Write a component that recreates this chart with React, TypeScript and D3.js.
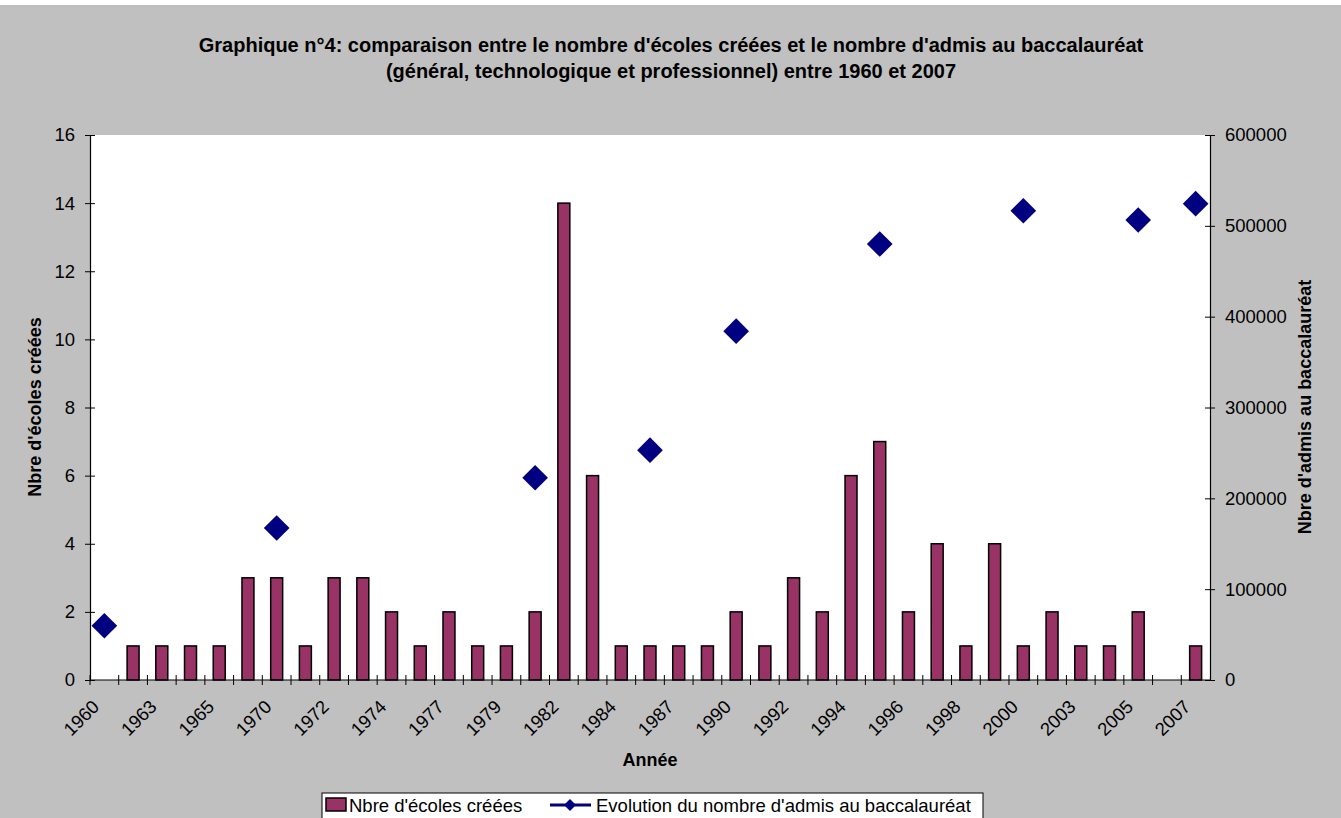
import * as d3 from "d3";
import { useEffect, useRef } from "react";

// categories (only every second label is shown on the axis)
const years = [
  "1960", "1962", "1963", "1964", "1965", "1968", "1970", "1971", "1972", "1973",
  "1974", "1976", "1977", "1978", "1979", "1980", "1982", "1983", "1984", "1985",
  "1987", "1988", "1990", "1991", "1992", "1993", "1994", "1995", "1996", "1997",
  "1998", "1999", "2000", "2002", "2003", "2004", "2005", "2006", "2007",
];
// Nbre d'écoles créées
const schools: (number | null)[] = [
  null, 1, 1, 1, 1, 3, 3, 1, 3, 3,
  2, 1, 2, 1, 1, 2, 14, 6, 1, 1,
  1, 1, 2, 1, 3, 2, 6, 7, 2, 4,
  1, 4, 1, 2, 1, 1, 2, null, 1,
];
// Evolution du nombre d'admis au baccalauréat
const admis: (number | null)[] = [
  59700, null, null, null, null, null, 167300, null, null, null,
  null, null, null, null, null, 222700, null, null, null, 253000,
  null, null, 384000, null, null, null, null, 480000, null, null,
  null, null, 516600, null, null, null, 506400, null, 524400,
];
const leftTicks = [0, 2, 4, 6, 8, 10, 12, 14, 16];
const rightTicks = [0, 100000, 200000, 300000, 400000, 500000, 600000];

const titleLines = [
  "Graphique n°4: comparaison entre le nombre d'écoles créées et le nombre d'admis au baccalauréat",
  "(général, technologique et professionnel) entre 1960 et 2007",
];

const FONT = "Arial, 'Liberation Sans', sans-serif";
const BAR = "#993366";
const NAVY = "#000080";

const App = () => {
  const svgRef = useRef<SVGSVGElement>(null);
  useEffect(() => {
    if (!svgRef.current) return;
    const svg = d3.select(svgRef.current);
    svg.selectAll("*").remove();

    const width = 1341;
    const height = 818;
    const left = 90;
    const right = 1210;
    const top = 135;
    const bottom = 680;

    svg.attr("width", width).attr("height", height).style("font-family", FONT);

    // chart background
    svg.append("rect").attr("x", 0).attr("y", 5).attr("width", width).attr("height", height - 5).attr("fill", "#C0C0C0");
    // plot area
    svg.append("rect").attr("x", left).attr("y", top).attr("width", right - left).attr("height", bottom - top).attr("fill", "#fff");

    const x = d3.scaleBand<string>().domain(years).range([left, right]).padding(0);
    const yL = d3.scaleLinear().domain([0, 16]).range([bottom, top]);
    const yR = d3.scaleLinear().domain([0, 600000]).range([bottom, top]);

    // title
    svg.append("g")
      .attr("font-weight", "bold")
      .attr("font-size", 20)
      .attr("text-anchor", "middle")
      .selectAll()
      .data(titleLines)
      .join("text")
      .attr("x", 671)
      .attr("y", (_, i) => 52 + i * 26)
      .text((d) => d);

    // bars
    const bw = x.bandwidth() / 2.4;
    svg.append("g")
      .selectAll()
      .data(years.map((y, i) => ({ y, v: schools[i] })).filter((d) => d.v != null))
      .join("rect")
      .attr("x", (d) => x(d.y)! + x.bandwidth() / 2 - bw / 2)
      .attr("y", (d) => yL(d.v as number))
      .attr("width", bw)
      .attr("height", (d) => bottom - yL(d.v as number))
      .attr("fill", BAR)
      .attr("stroke", "#000")
      .attr("stroke-width", 1.5);

    // axes
    const gL = svg.append("g").attr("transform", `translate(${left},0)`)
      .call(d3.axisLeft(yL).tickValues(leftTicks).tickSize(5).tickPadding(10));
    const gR = svg.append("g").attr("transform", `translate(${right},0)`)
      .call(d3.axisRight(yR).tickValues(rightTicks).tickSize(5).tickPadding(10).tickFormat(d3.format("d")));
    [gL, gR].forEach((g) => {
      g.select(".domain").attr("stroke", "#000").attr("stroke-width", 1.2);
      g.selectAll(".tick line").attr("stroke", "#000").attr("x1", -5).attr("x2", 5);
      g.selectAll(".tick text").attr("font-size", 18.5).attr("font-family", FONT).attr("fill", "#000");
    });

    const gX = svg.append("g").attr("transform", `translate(0,${bottom})`);
    gX.append("line").attr("x1", left).attr("x2", right).attr("stroke", "#000").attr("stroke-width", 1.2);
    gX.selectAll("line.tk")
      .data(years)
      .join("line")
      .attr("class", "tk")
      .attr("x1", (d) => x(d)!)
      .attr("x2", (d) => x(d)!)
      .attr("y1", -5)
      .attr("y2", 5)
      .attr("stroke", "#000");
    gX.selectAll("text")
      .data(years.filter((_, i) => i % 2 === 0))
      .join("text")
      .attr("transform", (d) => `translate(${x(d)! + x.bandwidth() / 2 - 4},28) rotate(-45)`)
      .attr("text-anchor", "end")
      .attr("font-size", 18.5)
      .text((d) => d);

    // diamonds
    const sym = d3.symbol(d3.symbolDiamond2, 420);
    svg.append("g")
      .selectAll()
      .data(years.map((y, i) => ({ y, v: admis[i] })).filter((d) => d.v != null))
      .join("path")
      .attr("d", sym)
      .attr("transform", (d) => `translate(${x(d.y)! + x.bandwidth() / 2},${yR(d.v as number)})`)
      .attr("fill", NAVY);

    // axis titles
    svg.append("text")
      .attr("transform", "translate(41,407) rotate(-90)")
      .attr("text-anchor", "middle")
      .attr("font-weight", "bold")
      .attr("font-size", 18)
      .text("Nbre d'écoles créées");
    svg.append("text")
      .attr("transform", "translate(1311,407) rotate(-90)")
      .attr("text-anchor", "middle")
      .attr("font-weight", "bold")
      .attr("font-size", 18)
      .text("Nbre d'admis au baccalauréat");
    svg.append("text")
      .attr("x", 650)
      .attr("y", 766)
      .attr("text-anchor", "middle")
      .attr("font-weight", "bold")
      .attr("font-size", 18)
      .text("Année");

    // legend
    const lg = svg.append("g");
    lg.append("rect").attr("x", 322).attr("y", 793).attr("width", 661).attr("height", 40)
      .attr("fill", "#fff").attr("stroke", "#000");
    lg.append("rect").attr("x", 326).attr("y", 798).attr("width", 20).attr("height", 13)
      .attr("fill", BAR).attr("stroke", "#000").attr("stroke-width", 1.5);
    lg.append("text").attr("x", 349).attr("y", 812).attr("font-size", 18.5).text("Nbre d'écoles créées");
    lg.append("line").attr("x1", 550).attr("x2", 591).attr("y1", 805).attr("y2", 805)
      .attr("stroke", NAVY).attr("stroke-width", 3);
    lg.append("path").attr("d", d3.symbol(d3.symbolDiamond2, 90)).attr("transform", "translate(570,805)").attr("fill", NAVY);
    lg.append("text").attr("x", 596).attr("y", 812).attr("font-size", 18.5)
      .text("Evolution du nombre d'admis au baccalauréat");
  }, []);
  return (
    <svg ref={svgRef} style={{ position: "absolute", left: 0, top: 0, display: "block" }}></svg>
  );
};

export default App;
